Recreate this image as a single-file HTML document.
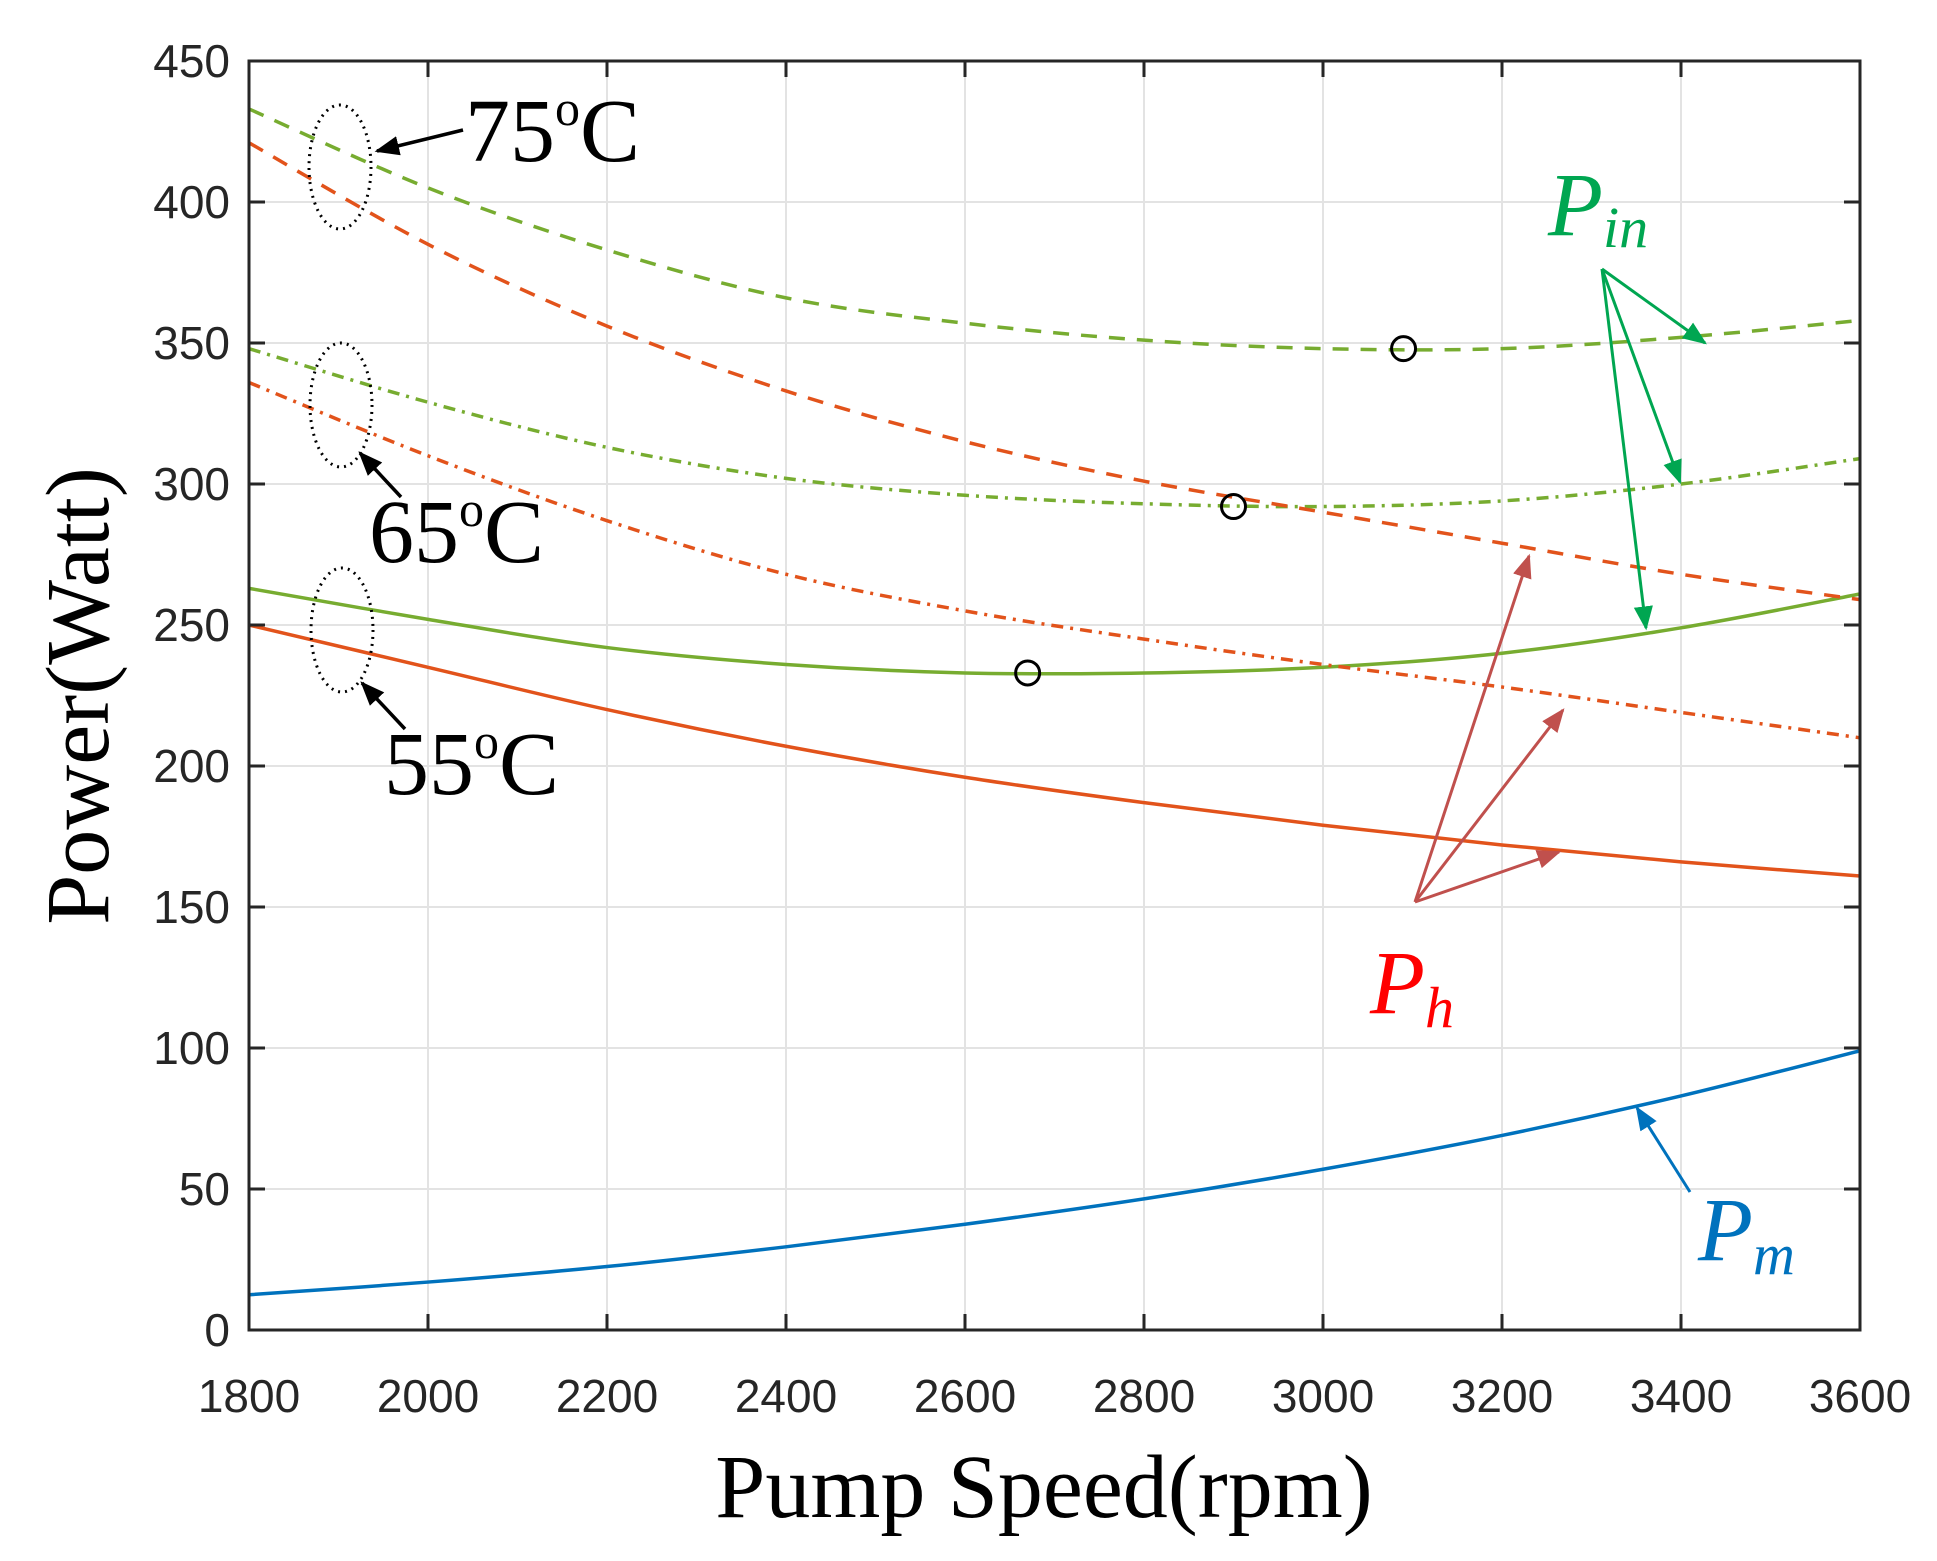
<!DOCTYPE html>
<html><head><meta charset="utf-8">
<style>
html,body{margin:0;padding:0;background:#fff;}
svg{display:block;}
.tk{font-family:"Liberation Sans",Arial,sans-serif;font-size:46px;fill:#262626;}
.ser{font-family:"Liberation Serif","Times New Roman",serif;}
</style></head>
<body>
<svg id="s" width="1937" height="1561" viewBox="0 0 1937 1561" xmlns="http://www.w3.org/2000/svg">
<defs>
<marker id="ab" viewBox="0 0 10 10" refX="9" refY="5" markerWidth="7" markerHeight="7" orient="auto"><path d="M0,1 L10,5 L0,9 z" fill="#000"/></marker>
<marker id="ag" viewBox="0 0 10 10" refX="9" refY="5" markerWidth="8" markerHeight="8" orient="auto"><path d="M0,1 L10,5 L0,9 z" fill="#00a651"/></marker>
<marker id="ar" viewBox="0 0 10 10" refX="9" refY="5" markerWidth="8" markerHeight="8" orient="auto"><path d="M0,1 L10,5 L0,9 z" fill="#c0504d"/></marker>
<marker id="am" viewBox="0 0 10 10" refX="9" refY="5" markerWidth="8" markerHeight="8" orient="auto"><path d="M0,1 L10,5 L0,9 z" fill="#0072bd"/></marker>
</defs>
<g id="grid"></g>
<g id="curves"></g>
<rect x="249" y="61" width="1611" height="1269" fill="none" stroke="#262626" stroke-width="3"/>
<g id="ticks"></g>
<text class="ser" x="1044" y="1517" font-size="90" text-anchor="middle" fill="#000">Pump Speed(rpm)</text>
<text class="ser" x="0" y="0" font-size="90" text-anchor="middle" fill="#000" transform="translate(108,696) rotate(-90)">Power(Watt)</text>

<ellipse cx="340" cy="167" rx="31" ry="62" fill="none" stroke="#000" stroke-width="3" stroke-dasharray="2,5"/>
<ellipse cx="341" cy="405" rx="31" ry="62" fill="none" stroke="#000" stroke-width="3" stroke-dasharray="2,5"/>
<ellipse cx="342" cy="630" rx="31" ry="62" fill="none" stroke="#000" stroke-width="3" stroke-dasharray="2,5"/>
<line x1="463" y1="130" x2="377" y2="151" stroke="#000" stroke-width="3.5" marker-end="url(#ab)"/>
<line x1="401" y1="497" x2="360" y2="453" stroke="#000" stroke-width="3.5" marker-end="url(#ab)"/>
<line x1="405" y1="729" x2="362" y2="683" stroke="#000" stroke-width="3.5" marker-end="url(#ab)"/>
<text class="ser" x="465" y="161" font-size="90" fill="#000">75<tspan font-size="50" dy="-36">o</tspan><tspan dy="36">C</tspan></text>
<text class="ser" x="369" y="562" font-size="90" fill="#000">65<tspan font-size="50" dy="-36">o</tspan><tspan dy="36">C</tspan></text>
<text class="ser" x="384" y="794" font-size="90" fill="#000">55<tspan font-size="50" dy="-36">o</tspan><tspan dy="36">C</tspan></text>

<text class="ser" x="1548" y="235" font-size="90" font-style="italic" fill="#00a651">P<tspan font-size="58" dy="12">in</tspan></text>
<g stroke="#00a651" stroke-width="3">
<line x1="1602" y1="269" x2="1705" y2="343" marker-end="url(#ag)"/>
<line x1="1602" y1="269" x2="1680" y2="482" marker-end="url(#ag)"/>
<line x1="1602" y1="269" x2="1646" y2="628" marker-end="url(#ag)"/>
</g>
<text class="ser" x="1370" y="1013" font-size="90" font-style="italic" fill="#ff0000">P<tspan font-size="58" dy="14">h</tspan></text>
<g stroke="#c0504d" stroke-width="3">
<line x1="1415" y1="902" x2="1529" y2="556" marker-end="url(#ar)"/>
<line x1="1415" y1="902" x2="1563" y2="710" marker-end="url(#ar)"/>
<line x1="1415" y1="902" x2="1559" y2="852" marker-end="url(#ar)"/>
</g>
<text class="ser" x="1698" y="1260" font-size="90" font-style="italic" fill="#0072bd">P<tspan font-size="58" dy="14">m</tspan></text>
<line x1="1690" y1="1192" x2="1637" y2="1108" stroke="#0072bd" stroke-width="3" marker-end="url(#am)"/>
</svg>
<script>
var NS="http://www.w3.org/2000/svg";
function X(r){return 249+(r-1800)*1611/1800;}
function Y(p){return 1330-p*1269/450;}
function el(g,t,a,txt){var e=document.createElementNS(NS,t);for(var k in a)e.setAttribute(k,a[k]);if(txt!==undefined)e.textContent=txt;document.getElementById(g).appendChild(e);return e;}
for(var r=1800;r<=3600;r+=200){var x=X(r);
 if(r>1800&&r<3600)el("grid","line",{x1:x,y1:61,x2:x,y2:1330,stroke:"#e3e3e3","stroke-width":2});
 el("ticks","line",{x1:x,y1:1330,x2:x,y2:1314,stroke:"#262626","stroke-width":3});
 el("ticks","line",{x1:x,y1:61,x2:x,y2:77,stroke:"#262626","stroke-width":3});
 el("ticks","text",{x:x,y:1412,"text-anchor":"middle","class":"tk"},String(r));}
for(var p=0;p<=450;p+=50){var y=Y(p);
 if(p>0&&p<450)el("grid","line",{x1:249,y1:y,x2:1860,y2:y,stroke:"#e3e3e3","stroke-width":2});
 el("ticks","line",{x1:249,y1:y,x2:265,y2:y,stroke:"#262626","stroke-width":3});
 el("ticks","line",{x1:1860,y1:y,x2:1844,y2:y,stroke:"#262626","stroke-width":3});
 el("ticks","text",{x:230,y:y+16,"text-anchor":"end","class":"tk"},String(p));}
var xs=[1800,2000,2200,2400,2600,2800,3000,3200,3400,3600];
function path(v){var pts=v.map(function(p,i){return [X(xs[i]),Y(p)];});
 var d="M"+pts[0][0]+","+pts[0][1];
 for(var i=0;i<pts.length-1;i++){var p0=pts[Math.max(0,i-1)],p1=pts[i],p2=pts[i+1],p3=pts[Math.min(pts.length-1,i+2)];
  var c1=[p1[0]+(p2[0]-p0[0])/6,p1[1]+(p2[1]-p0[1])/6],c2=[p2[0]-(p3[0]-p1[0])/6,p2[1]-(p3[1]-p1[1])/6];
  d+=" C"+c1[0]+","+c1[1]+" "+c2[0]+","+c2[1]+" "+p2[0]+","+p2[1];}
 return d;}
var G="#77ac30",O="#e2531b",B="#0072bd";
var series=[
 [[12.5,17,22.5,29.5,37.5,46.5,57,69,83,99],B,""],
 [[250,235,220,207,196,187,179,172,166,161],O,""],
 [[263,252,242,236,233,233,235,240,249,261],G,""],
 [[336,310,287,268,255,245,236,228,219,210],O,"12,7,3,7"],
 [[348,329,313,302,296,293,292,294,300,309],G,"12,7,3,7"],
 [[421,385,356,333,315,301,290,279,268,259],O,"16,12"],
 [[433,405,383,366,357,351,348,348,352,358],G,"16,12"]];
series.forEach(function(s){var a={d:path(s[0]),fill:"none",stroke:s[1],"stroke-width":3.5};if(s[2])a["stroke-dasharray"]=s[2];el("curves","path",a);});
[[2670,233],[2900,292],[3090,348]].forEach(function(m){el("curves","circle",{cx:X(m[0]),cy:Y(m[1]),r:12,fill:"none",stroke:"#000","stroke-width":3});});
</script>
</body></html>
